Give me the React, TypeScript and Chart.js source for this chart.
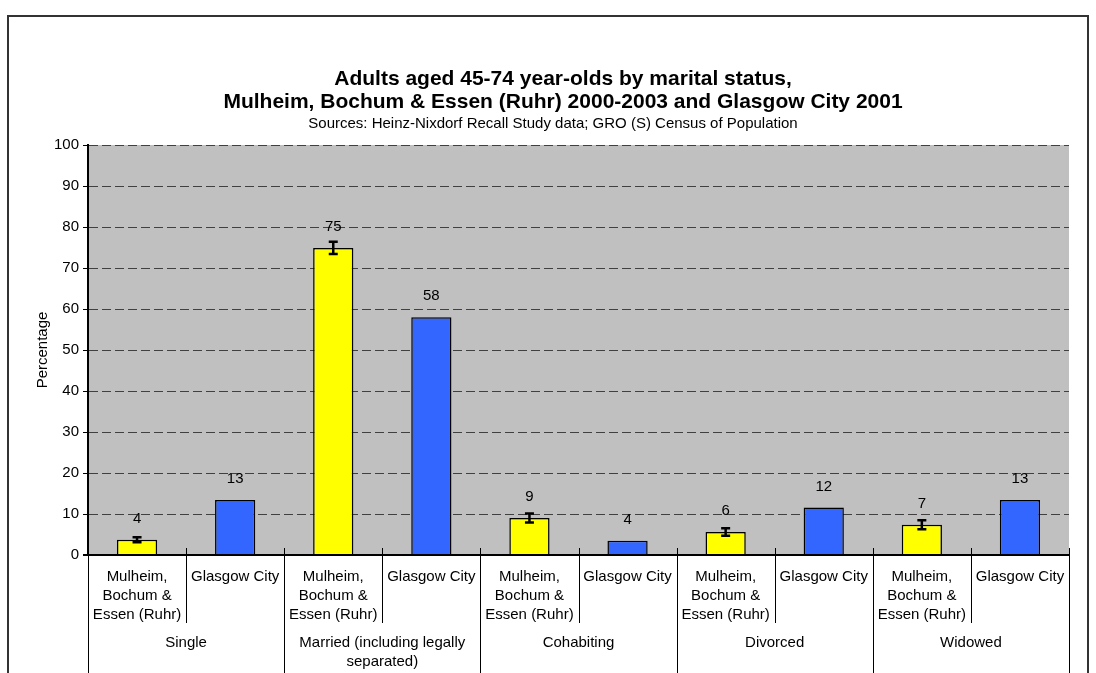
import React, { useEffect, useRef } from "react";
import { Chart, registerables } from "chart.js";

Chart.register(...registerables);

// ---------- data ----------
const groupLabels: (string | string[])[] = [
  "Single",
  ["Married (including legally", "separated)"],
  "Cohabiting",
  "Divorced",
  "Widowed",
];
const seriesNames = ["Mulheim, Bochum & Essen (Ruhr)", "Glasgow City"];
const seriesTickLabels: string[][] = [
  ["Mulheim,", "Bochum &", "Essen (Ruhr)"],
  ["Glasgow City"],
];
const ruhrValues = [3.7, 74.9, 9.0, 5.6, 7.4];
const ruhrErrors = [0.6, 1.5, 1.1, 0.9, 1.1];
const glasgowValues = [13.4, 58.0, 3.5, 11.6, 13.4];
const yTickValues = [0, 10, 20, 30, 40, 50, 60, 70, 80, 90, 100];
const titleLines = [
  "Adults aged 45-74 year-olds by marital status,",
  "Mulheim, Bochum & Essen (Ruhr) 2000-2003 and Glasgow City 2001",
];
const subtitleText = "Sources: Heinz-Nixdorf Recall Study data; GRO (S) Census of Population";
const yAxisTitle = "Percentage";

// ---------- derived tables ----------
const nSeries = seriesNames.length;
const slotLabels: string[] = [];
groupLabels.forEach((_, g) => seriesNames.forEach((s) => slotLabels.push(`${g}-${s}`)));
const spread = (vals: number[], sIdx: number) =>
  slotLabels.map((_, i) => (i % nSeries === sIdx ? vals[Math.floor(i / nSeries)] : null));
const ruhrData = spread(ruhrValues, 0);
const glasgowData = spread(glasgowValues, 1);
const errData = spread(ruhrErrors, 0);

const FONT = '"Liberation Sans", Arial, sans-serif';

const bgPlugin = {
  id: "plotBg",
  beforeDraw(chart: any) {
    const { ctx, chartArea: a } = chart;
    ctx.save();
    ctx.fillStyle = "#C0C0C0";
    ctx.fillRect(a.left, a.top, a.right - a.left, a.bottom - a.top);
    ctx.restore();
  },
};

const marksPlugin = {
  id: "marks",
  afterDatasetsDraw(chart: any) {
    const { ctx } = chart;
    const y = chart.scales.y;
    const x = chart.scales.x;
    ctx.save();
    // error bars (Ruhr series)
    ctx.strokeStyle = "#000";
    ctx.lineWidth = 2.5;
    errData.forEach((e, i) => {
      const v = ruhrData[i];
      if (e == null || v == null) return;
      const cx = x.getPixelForValue(i);
      const yt = y.getPixelForValue(v + e);
      const yb = y.getPixelForValue(v - e);
      ctx.beginPath();
      ctx.moveTo(cx, yt);
      ctx.lineTo(cx, yb);
      ctx.moveTo(cx - 4.5, yt);
      ctx.lineTo(cx + 4.5, yt);
      ctx.moveTo(cx - 4.5, yb);
      ctx.lineTo(cx + 4.5, yb);
      ctx.stroke();
    });
    // data labels
    ctx.fillStyle = "#000";
    ctx.font = `15px ${FONT}`;
    ctx.textAlign = "center";
    ctx.textBaseline = "middle";
    [ruhrData, glasgowData].forEach((arr) => {
      arr.forEach((v, i) => {
        if (v == null) return;
        const cx = x.getPixelForValue(i);
        ctx.fillText(String(Math.round(v)), cx, y.getPixelForValue(v) - 21);
      });
    });
    ctx.restore();
  },
  afterDraw(chart: any) {
    const { ctx, chartArea: a } = chart;
    const x = chart.scales.x;
    const n = slotLabels.length;
    const bound = (i: number) =>
      i === 0 ? a.left : i === n ? a.right : (x.getPixelForValue(i - 1) + x.getPixelForValue(i)) / 2;
    ctx.save();
    ctx.strokeStyle = "#000";
    // separators and ticks
    for (let i = 0; i <= n; i++) {
      const bx = Math.round(bound(i)) + 0.5;
      ctx.lineWidth = 1;
      ctx.beginPath();
      ctx.moveTo(bx, a.bottom - 7);
      ctx.lineTo(bx, i % nSeries === 0 ? 680 : a.bottom + 68);
      ctx.stroke();
    }
    // axis line
    ctx.lineWidth = 2;
    ctx.beginPath();
    ctx.moveTo(a.left - 5, a.bottom);
    ctx.lineTo(a.right, a.bottom);
    ctx.stroke();

    ctx.fillStyle = "#000";
    ctx.font = `15px ${FONT}`;
    ctx.textAlign = "center";
    ctx.textBaseline = "middle";
    // inner labels
    for (let i = 0; i < n; i++) {
      const lines = seriesTickLabels[i % nSeries];
      const cx = x.getPixelForValue(i);
      lines.forEach((t, k) => ctx.fillText(t, cx, a.bottom + 22 + k * 19));
    }
    // group labels
    groupLabels.forEach((g, gi) => {
      const cx = (bound(gi * nSeries) + bound(gi * nSeries + nSeries)) / 2;
      const lines = Array.isArray(g) ? g : [g];
      lines.forEach((t, k) => ctx.fillText(t, cx, a.bottom + 88 + k * 19));
    });

    // titles
    const tc = 563;
    ctx.font = `bold 21px ${FONT}`;
    ctx.fillText(titleLines[0], tc, 79);
    ctx.fillText(titleLines[1], tc, 102);
    ctx.font = `15px ${FONT}`;
    ctx.fillText(subtitleText, tc - 10, 124);

    // outer frame
    ctx.strokeStyle = "#333";
    ctx.lineWidth = 2;
    ctx.strokeRect(8, 16, 1080, 700);
    ctx.restore();
  },
};

export default function App() {
  const ref = useRef<HTMLCanvasElement | null>(null);
  useEffect(() => {
    if (!ref.current) return;
    const chart = new Chart(ref.current, {
      type: "bar",
      data: {
        labels: slotLabels,
        datasets: [
          {
            label: seriesNames[0],
            data: ruhrData,
            backgroundColor: "#FFFF00",
            borderColor: "#000",
            borderWidth: 1.5,
            grouped: false,
            categoryPercentage: 1,
            barPercentage: 0.41,
          } as any,
          {
            label: seriesNames[1],
            data: glasgowData,
            backgroundColor: "#3366FF",
            borderColor: "#000",
            borderWidth: 1.5,
            grouped: false,
            categoryPercentage: 1,
            barPercentage: 0.41,
          } as any,
        ],
      },
      options: {
        animation: false,
        responsive: false,
        maintainAspectRatio: false,
        layout: { padding: { top: 145, right: 27, bottom: 118, left: 8 } },
        plugins: {
          legend: { display: false },
          tooltip: { enabled: false },
          title: { display: false },
        },
        scales: {
          x: { display: false },
          y: {
            min: 0,
            max: 100,
            afterBuildTicks: (s: any) => {
              s.ticks = yTickValues.map((v) => ({ value: v }));
            },
            afterFit: (s: any) => {
              s.width = 80;
            },
            ticks: {
              color: "#000",
              font: { family: FONT, size: 15 },
              padding: 4,
            },
            grid: {
              color: "#404040",
              lineWidth: 1,
              tickLength: 5,
              tickColor: "#000",
              tickBorderDash: [],
            },
            border: { display: true, color: "#000", width: 2, dash: [9, 4] },
            title: {
              display: true,
              text: yAxisTitle,
              color: "#000",
              font: { family: FONT, size: 15 },
              padding: { top: 26, bottom: 0 },
            },
          },
        },
      },
      plugins: [bgPlugin, marksPlugin],
    });
    return () => chart.destroy();
  }, []);
  return (
    <div style={{ position: "fixed", left: 0, top: 0, width: 1096, height: 673, background: "#fff" }}>
      <canvas ref={ref} width={1096} height={673} style={{ width: 1096, height: 673, display: "block" }} />
    </div>
  );
}
